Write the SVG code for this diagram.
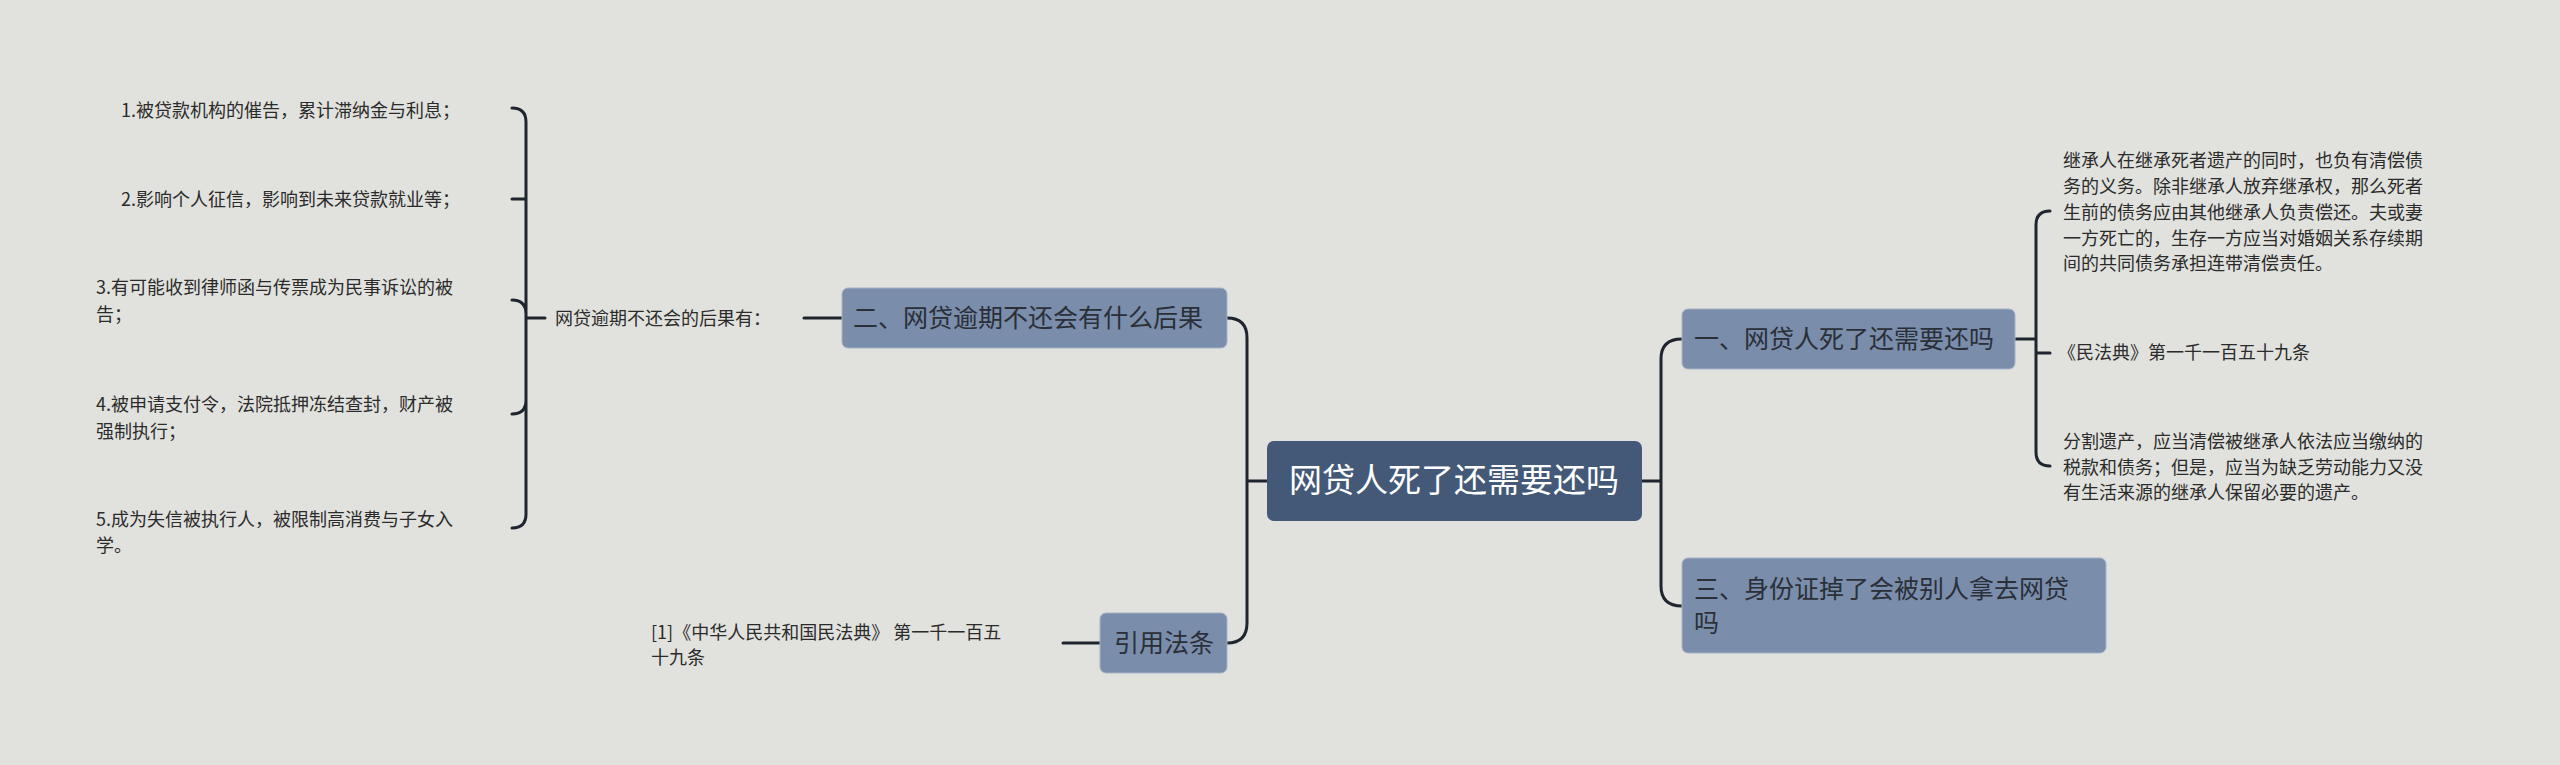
<svg xmlns="http://www.w3.org/2000/svg" width="2560" height="765" viewBox="0 0 2560 765">
<style>
.c{fill:none;stroke:#1f252e;stroke-width:3;stroke-linecap:round}
.t{font-family:"Noto Sans CJK SC","Liberation Sans",sans-serif;fill:#2b2b2b;font-size:18px}
.n{fill:#7a8dab;stroke:#a5b3c7;stroke-width:1}
.nt{font-family:"Noto Sans CJK SC","Liberation Sans",sans-serif;fill:#2a2f38;font-size:25px}
</style>
<rect width="2560" height="765" fill="#e1e2dd"/>
<g id="connectors">
<path class="c" d="M1267 481H1247M1227 318Q1247 318 1247 338V623Q1247 643 1227 643M1063 643H1100M804 318H842"/>
<path class="c" d="M1642 481H1661M1682 339Q1661 339 1661 359V586Q1661 606 1682 606M2015 339H2036M2050 211Q2036 211 2036 225V452Q2036 466 2050 466M2036 353H2050"/>
<path class="c" d="M526 318H545M512 108Q526 108 526 122V514Q526 528 512 528M512 199H526M512 300Q526 300 526 314M512 414Q526 414 526 400"/>
</g>
<g id="root"><rect x="1267" y="441" width="375" height="80" rx="7" fill="#435977"/><text x="1454" y="492" font-family="Noto Sans CJK SC,sans-serif" font-size="33" fill="#fff" text-anchor="middle">网贷人死了还需要还吗</text></g>
<g id="n2"><rect class="n" x="842" y="288" width="385" height="60" rx="6"/><text class="nt" x="853" y="327">二、网贷逾期不还会有什么后果</text></g>
<g id="n4"><rect class="n" x="1100" y="613" width="127" height="60" rx="6"/><text class="nt" x="1114" y="652">引用法条</text></g>
<g id="n1"><rect class="n" x="1682" y="309" width="333" height="60" rx="6"/><text class="nt" x="1694" y="348">一、网贷人死了还需要还吗</text></g>
<g id="n3"><rect class="n" x="1682" y="558" width="424" height="95" rx="6"/><text class="nt" x="1694" y="598">三、身份证掉了会被别人拿去网贷</text><text class="nt" x="1694" y="632">吗</text></g>
<g id="label"><text class="t" x="555" y="325">网贷逾期不还会的后果有：</text></g>
<g id="items" class="t">
<text class="t" x="121" y="117">1.被贷款机构的催告，累计滞纳金与利息；</text>
<text class="t" x="121" y="206">2.影响个人征信，影响到未来贷款就业等；</text>
<text class="t" x="96" y="294">3.有可能收到律师函与传票成为民事诉讼的被</text><text class="t" x="96" y="321">告；</text>
<text class="t" x="96" y="411">4.被申请支付令，法院抵押冻结查封，财产被</text><text class="t" x="96" y="438">强制执行；</text>
<text class="t" x="96" y="526">5.成为失信被执行人，被限制高消费与子女入</text><text class="t" x="96" y="552">学。</text>
</g>
<g id="ref"><text class="t" x="651" y="639">[1]《中华人民共和国民法典》 第一千一百五</text><text class="t" x="651" y="664">十九条</text></g>
<g id="right">
<text class="t" x="2063" y="167">继承人在继承死者遗产的同时，也负有清偿债</text>
<text class="t" x="2063" y="193">务的义务。除非继承人放弃继承权，那么死者</text>
<text class="t" x="2063" y="219">生前的债务应由其他继承人负责偿还。夫或妻</text>
<text class="t" x="2063" y="245">一方死亡的，生存一方应当对婚姻关系存续期</text>
<text class="t" x="2063" y="270">间的共同债务承担连带清偿责任。</text>
<text class="t" x="2058" y="359">《民法典》第一千一百五十九条</text>
<text class="t" x="2063" y="448">分割遗产，应当清偿被继承人依法应当缴纳的</text>
<text class="t" x="2063" y="474">税款和债务；但是，应当为缺乏劳动能力又没</text>
<text class="t" x="2063" y="499">有生活来源的继承人保留必要的遗产。</text>
</g>
</svg>
